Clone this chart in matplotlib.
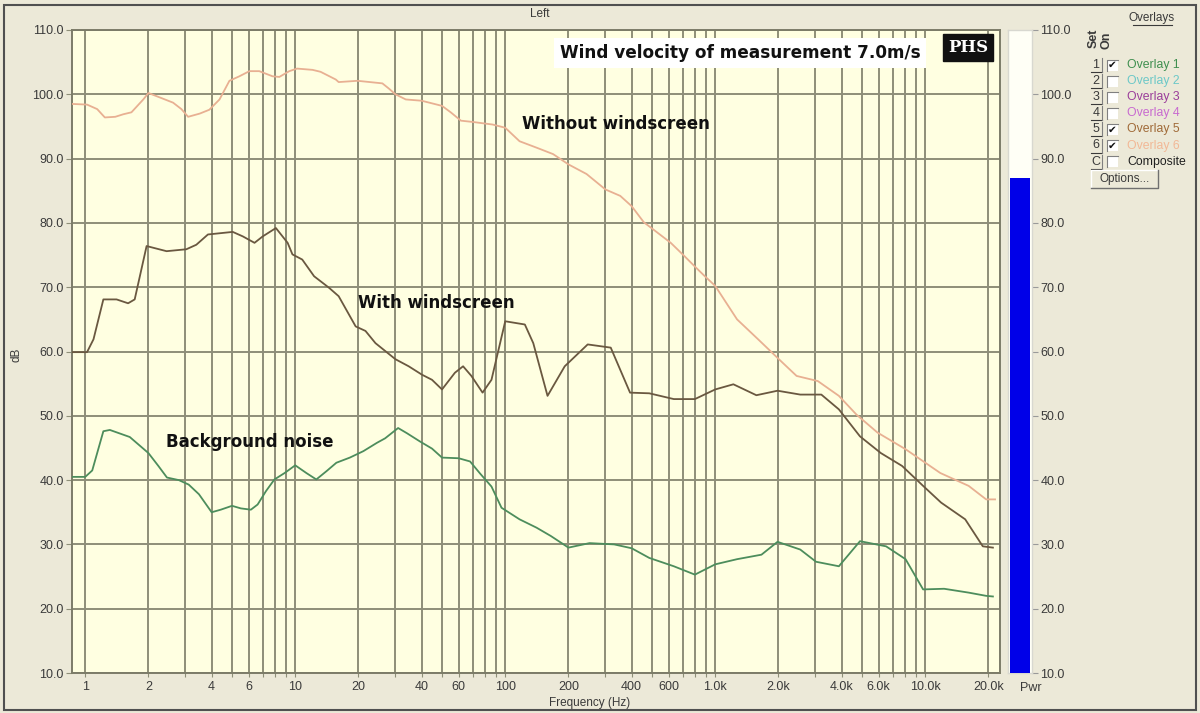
import matplotlib
matplotlib.use('Agg')
import matplotlib.pyplot as plt
from matplotlib.patches import Rectangle
from matplotlib.lines import Line2D
from matplotlib.transforms import Affine2D
from matplotlib.ticker import FixedLocator, FixedFormatter

# ---------------- data ----------------
freq_without = [0.868, 1.02, 1.14, 1.24, 1.39, 1.52, 1.66, 1.89, 2.0, 2.27, 2.62, 2.87, 3.09, 3.51,
                3.9, 4.36, 4.86, 5.42, 6.05, 6.74, 7.8, 8.4, 9.37, 10.2, 12.1, 13.2, 15.6, 16.1,
                19.8, 26, 27.9, 30, 33.6, 40, 50, 55, 61.5, 70, 87, 100, 117, 141, 169, 200, 244,
                300, 353, 400, 457, 530, 614, 710, 795, 886, 1000, 1270, 1600, 2010, 2440, 3080,
                3880, 4700, 5920, 8060, 11800, 16100, 19500, 21500]
db_without = [98.5, 98.4, 97.7, 96.4, 96.5, 96.9, 97.2, 99.2, 100.2, 99.5, 98.7, 97.7, 96.5, 97.0,
              97.6, 99.2, 102.1, 102.8, 103.6, 103.6, 102.8, 102.7, 103.6, 104.0, 103.8, 103.5,
              102.3, 101.9, 102.1, 101.7, 100.9, 100.0, 99.2, 99.0, 98.2, 97.2, 95.9, 95.7, 95.3,
              94.8, 92.7, 91.7, 90.7, 89.1, 87.6, 85.2, 84.2, 82.6, 80.1, 78.5, 76.9, 74.9, 73.3,
              71.8, 70.2, 65.0, 61.9, 58.8, 56.2, 55.4, 53.1, 50.2, 47.4, 44.8, 41.1, 39.1, 37.0,
              37.0]

freq_with = [0.865, 1.02, 1.095, 1.22, 1.41, 1.6, 1.72, 1.96, 2.44, 3.03, 3.38, 3.84, 5.04, 5.63,
             6.4, 7.0, 8.09, 9.2, 9.7, 10.8, 12.3, 14.5, 16.1, 19.4, 21.6, 24.1, 30, 34.7, 40.1,
             44.8, 50, 57.6, 63, 69, 78, 86, 100, 124, 136, 159, 192, 247, 318, 393, 485, 635,
             800, 1000, 1220, 1570, 1980, 2540, 3200, 3880, 4890, 6150, 7760, 9770, 11900, 15500,
             18800, 21000]
db_with = [59.9, 59.9, 61.9, 68.1, 68.1, 67.5, 68.1, 76.4, 75.6, 75.9, 76.6, 78.2, 78.6, 77.9,
           76.9, 77.9, 79.2, 76.9, 75.1, 74.3, 71.7, 69.9, 68.6, 63.9, 63.2, 61.3, 58.8, 57.7,
           56.4, 55.6, 54.1, 56.7, 57.7, 56.2, 53.6, 55.6, 64.7, 64.2, 61.3, 53.1, 57.7, 61.1,
           60.6, 53.6, 53.5, 52.6, 52.6, 54.1, 54.9, 53.2, 53.9, 53.3, 53.3, 51.0, 46.8, 44.2,
           42.2, 39.1, 36.5, 33.9, 29.7, 29.5]

freq_noise = [0.865, 1.0, 1.08, 1.22, 1.31, 1.63, 2.0, 2.23, 2.45, 2.79, 3.11, 3.48, 4.0, 4.42,
              5.0, 5.51, 6.15, 6.62, 7.26, 7.96, 8.9, 10, 11.3, 12.6, 14.1, 15.7, 18.2, 21.1,
              24.5, 26.8, 30.9, 34, 39.3, 44.8, 50, 60, 68, 76, 86, 96, 117, 141, 165, 200, 252,
              330, 400, 485, 635, 800, 1000, 1270, 1660, 1980, 2540, 3020, 3880, 4890, 6510,
              8060, 9770, 12300, 16100, 19500, 21000]
db_noise = [40.5, 40.5, 41.5, 47.6, 47.8, 46.7, 44.2, 42.2, 40.4, 40.0, 39.3, 37.8, 35.0, 35.4,
            36.0, 35.6, 35.4, 36.2, 38.3, 40.1, 41.1, 42.3, 41.1, 40.1, 41.4, 42.7, 43.5, 44.5,
            45.8, 46.5, 48.1, 47.3, 46.0, 44.9, 43.5, 43.4, 42.9, 41.0, 39.0, 35.7, 33.9, 32.6,
            31.3, 29.5, 30.2, 30.0, 29.4, 27.9, 26.6, 25.3, 26.9, 27.7, 28.4, 30.4, 29.2, 27.3,
            26.6, 30.5, 29.7, 27.7, 23.0, 23.1, 22.5, 22.0, 21.9]

grid_freqs = [1, 2, 3, 4, 5, 6, 7, 8, 9, 10, 20, 30, 40, 50, 60, 70, 80, 90,
              100, 200, 300, 400, 500, 600, 700, 800, 900,
              1000, 2000, 3000, 4000, 5000, 6000, 7000, 8000, 9000, 10000, 20000]
freq_labels = {1: '1', 2: '2', 4: '4', 6: '6', 10: '10', 20: '20', 40: '40', 60: '60',
               100: '100', 200: '200', 400: '400', 600: '600', 1000: '1.0k', 2000: '2.0k',
               4000: '4.0k', 6000: '6.0k', 10000: '10.0k', 20000: '20.0k'}
db_ticks = [10, 20, 30, 40, 50, 60, 70, 80, 90, 100, 110]
pwr_level = 87.0

overlay_names = ['Overlay 1', 'Overlay 2', 'Overlay 3', 'Overlay 4', 'Overlay 5', 'Overlay 6',
                 'Composite']
overlay_keys = ['1', '2', '3', '4', '5', '6', 'C']
overlay_on = [True, False, False, False, True, True, False]
overlay_colors = ['#3f8f4f', '#6cc8c8', '#9a3d9a', '#c86ad0', '#a06a38', '#f2b896', '#202020']

# ---------------- figure ----------------
W, H = 1200, 713
fig = plt.figure(figsize=(12, 7.13), dpi=100)
fig.patch.set_facecolor('#ece9d8')
px = Affine2D().scale(1.0 / W, -1.0 / H).translate(0, 1) + fig.transFigure

def fx(p):
    return p / W

def fy(p):
    return 1 - p / H

GRID = '#8e8e78'
TXT = '#3a3a3a'
FONT = 'Liberation Sans'

ax = fig.add_axes([fx(72), fy(673), fx(1000) - fx(72), fy(30) - fy(673)])
ax.set_facecolor('#ffffe1')
ax.set_xscale('log')
ax.set_xlim(0.865, 22700)
ax.set_ylim(10, 110)

ax.xaxis.set_major_locator(FixedLocator(grid_freqs))
ax.xaxis.set_major_formatter(FixedFormatter([freq_labels.get(f, '') for f in grid_freqs]))
ax.xaxis.set_minor_locator(FixedLocator([]))
ax.set_yticks(db_ticks)
ax.set_yticklabels([f'{v:.1f}' for v in db_ticks])
ax.tick_params(axis='x', length=3, color=GRID, labelsize=9, labelcolor=TXT, pad=3)
ax.tick_params(axis='y', length=4, color=GRID, labelsize=9, labelcolor=TXT, pad=2)
for lab in ax.get_xticklabels() + ax.get_yticklabels():
    lab.set_family(FONT)
ax.grid(True, which='major', color=GRID, linewidth=1.4)
ax.set_axisbelow(True)
for s in ax.spines.values():
    s.set_color('#7c7c68')
    s.set_linewidth(1.4)

ax.plot(freq_without, db_without, color='#e8b092', lw=1.3, zorder=3)
ax.plot(freq_with, db_with, color='#6a5840', lw=1.3, zorder=3)
ax.plot(freq_noise, db_noise, color='#4d8d5c', lw=1.3, zorder=3)

# annotations
fig.text(740, 53, 'Wind velocity of measurement 7.0m/s', transform=px, ha='center', va='center',
         fontsize=12.2, fontweight='bold', family='DejaVu Sans', color='#111111',
         bbox=dict(boxstyle='square,pad=0.35', fc='white', ec='none'))
fig.text(968, 47, 'PHS', transform=px, ha='center', va='center', fontsize=12,
         fontweight='bold', family='DejaVu Serif', color='white',
         bbox=dict(boxstyle='square,pad=0.3', fc='#111111', ec='#111111'))
fig.text(522, 124, 'Without windscreen', transform=px, ha='left', va='center', fontsize=12,
         fontweight='bold', family='DejaVu Sans', color='#111111')
fig.text(358, 303, 'With windscreen', transform=px, ha='left', va='center', fontsize=12,
         fontweight='bold', family='DejaVu Sans', color='#111111')
fig.text(166, 442, 'Background noise', transform=px, ha='left', va='center', fontsize=12,
         fontweight='bold', family='DejaVu Sans', color='#111111')

# axis titles
fig.text(540, 14, 'Left', transform=px, ha='center', va='center', fontsize=8.5,
         family=FONT, color=TXT)
fig.text(590, 703, 'Frequency (Hz)', transform=px, ha='center', va='center', fontsize=8.5,
         family=FONT, color=TXT)
fig.text(16, 355, 'dB', transform=px, ha='center', va='center', fontsize=8.5, rotation=90,
         family=FONT, color=TXT)

# ---------------- power bar ----------------
axp = fig.add_axes([fx(1008), fy(673), fx(1032) - fx(1008), fy(30) - fy(673)])
axp.set_facecolor('#fffff6')
axp.set_xlim(0, 1)
axp.set_ylim(10, 110)
axp.bar([0.5], [pwr_level - 10], bottom=10, width=0.84, color='#0000e8', zorder=3)
axp.set_xticks([])
axp.yaxis.tick_right()
axp.set_yticks(db_ticks)
axp.set_yticklabels([f'{v:.1f}' for v in db_ticks])
axp.tick_params(axis='y', length=4, color='#9a9a9a', labelsize=9, labelcolor=TXT, pad=2)
for lab in axp.get_yticklabels():
    lab.set_family(FONT)
for s in axp.spines.values():
    s.set_color('#d8d8d0')
    s.set_linewidth(1.0)
fig.text(1031, 688, 'Pwr', transform=px, ha='center', va='center', fontsize=9,
         family=FONT, color=TXT)

# ---------------- overlay panel ----------------
fig.text(1152, 18, 'Overlays', transform=px, ha='center', va='center', fontsize=8.5,
         family=FONT, color=TXT)
fig.add_artist(Line2D([fx(1133), fx(1172)], [fy(25), fy(25)], color=TXT, lw=0.8))
fig.text(1094, 38, 'Set', transform=px, ha='center', va='center', fontsize=9, rotation=90,
         family=FONT, color=TXT, fontweight='bold')
fig.text(1106, 40, 'On', transform=px, ha='center', va='center', fontsize=9, rotation=90,
         family=FONT, color=TXT, fontweight='bold')

row_y0 = 65
row_dy = 16.1
for i, (key, name, on, col) in enumerate(zip(overlay_keys, overlay_names, overlay_on,
                                              overlay_colors)):
    y = row_y0 + i * row_dy
    fig.text(1096, y, key, transform=px, ha='center', va='center', fontsize=9,
             family=FONT, color=TXT)
    fig.add_artist(Line2D([fx(1091), fx(1102)], [fy(y + 7), fy(y + 7)], color=TXT, lw=0.8))
    fig.add_artist(Line2D([fx(1102), fx(1102)], [fy(y - 7), fy(y + 7)], color='#808080',
                          lw=0.8))
    fig.add_artist(Rectangle((fx(1107), fy(y + 5.5)), fx(11), 11 / H, facecolor='white',
                             edgecolor='none'))
    fig.add_artist(Line2D([fx(1107), fx(1107), fx(1118)], [fy(y + 5.5), fy(y - 5.5),
                                                          fy(y - 5.5)],
                          color='#808080', lw=0.8))
    if on:
        fig.text(1112.5, y, '\u2714', transform=px, ha='center', va='center', fontsize=7.5,
                 family='DejaVu Sans', color='#111111')
    fig.text(1127, y, name, transform=px, ha='left', va='center', fontsize=8.8,
             family=FONT, color=col)

# Options button
by = 170
fig.add_artist(Rectangle((fx(1091), fy(by + 18)), fx(67), 18 / H, facecolor='#ece9d8',
                         edgecolor='none'))
fig.add_artist(Line2D([fx(1091), fx(1091), fx(1158)], [fy(by + 18), fy(by), fy(by)],
                      color='white', lw=1))
fig.add_artist(Line2D([fx(1091), fx(1158), fx(1158)], [fy(by + 18), fy(by + 18), fy(by)],
                      color='#707070', lw=1))
fig.text(1124.5, by + 9, 'Options...', transform=px, ha='center', va='center', fontsize=8.5,
         family=FONT, color=TXT)

# window frame
fig.add_artist(Rectangle((fx(4), fy(710)), fx(1192), 705 / H, fill=False,
                         edgecolor='#505050', lw=1.5))

fig.savefig('out.png', dpi=100, facecolor=fig.get_facecolor())
